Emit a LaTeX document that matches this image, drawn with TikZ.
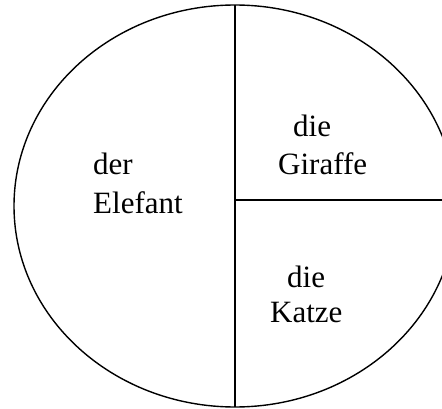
\documentclass[tikz,border=0pt]{standalone}
\usepackage{fontspec}
\setmainfont{Liberation Serif}
\tikzset{
  lbl/.style={anchor=base west, inner sep=0pt, font=\fontsize{31}{37}\selectfont},
  divider/.style={line width=1.4pt, draw=black}
}
\begin{document}
\begin{tikzpicture}[x=1pt,y=-1pt]
\useasboundingbox (0,0) rectangle (442,409);
\clip (0,0) rectangle (442,409);
\fill[white] (0,0) rectangle (442,409);
\draw[divider] (235,206) ellipse [x radius=221, y radius=201];
\coordinate (top) at (235,5);
\coordinate (bot) at (235,407);
\coordinate (mid) at (235,200);
\coordinate (rt) at (460,200);
\draw[divider] (top) -- (bot);
\draw[divider] (mid) -- (rt);
\node[lbl] (der) at (93,175) {der};
\node[lbl] (elefant) at (93,213) {Elefant};
\node[lbl] (die1) at (293,137) {die};
\node[lbl] (giraffe) at (278,175) {Giraffe};
\node[lbl] (die2) at (287,287) {die};
\node[lbl] (katze) at (270,322) {Katze};
\end{tikzpicture}
\end{document}
